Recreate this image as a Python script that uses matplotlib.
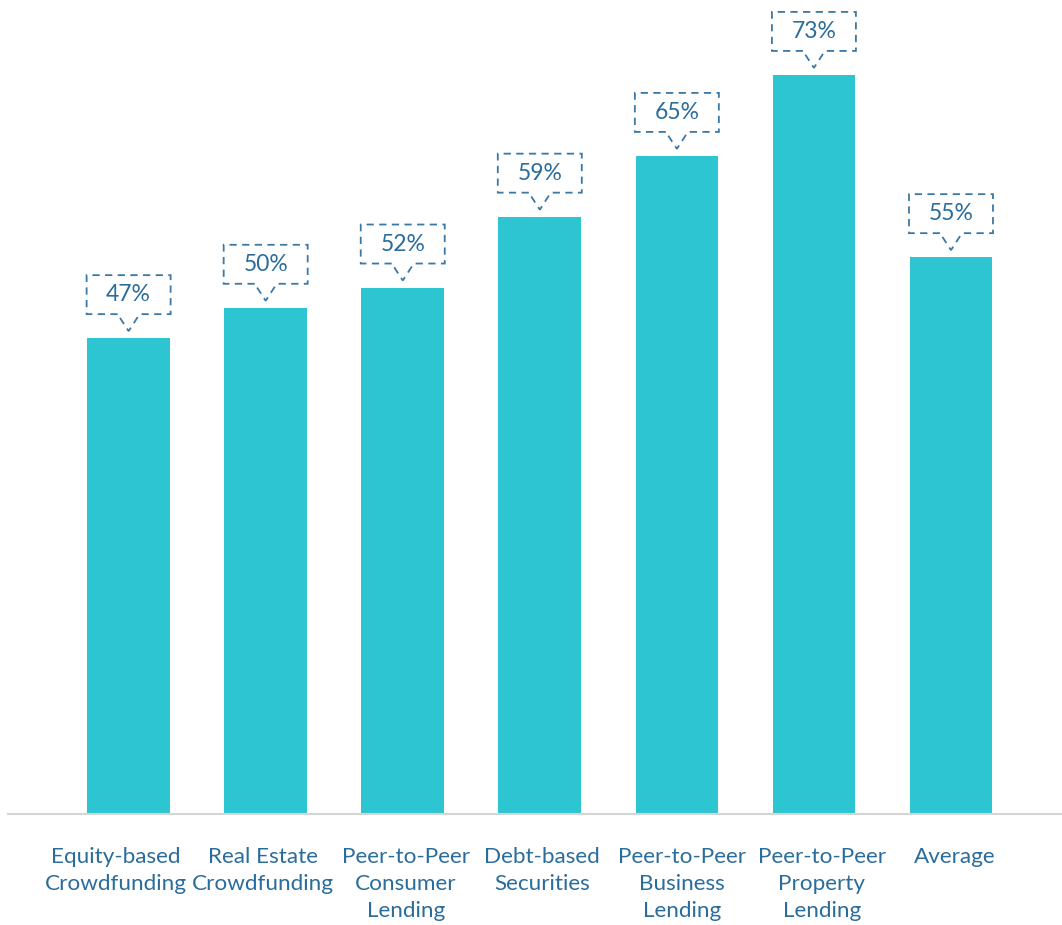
import matplotlib.pyplot as plt
from matplotlib.path import Path
from matplotlib.patches import PathPatch
from matplotlib.transforms import Affine2D, ScaledTranslation

# Data
categories = ['Equity-based\nCrowdfunding', 'Real Estate\nCrowdfunding',
              'Peer-to-Peer\nConsumer\nLending', 'Debt-based\nSecurities',
              'Peer-to-Peer\nBusiness\nLending', 'Peer-to-Peer\nProperty\nLending',
              'Average']
values = [47, 50, 52, 59, 65, 73, 55]

bar_color = '#2cc5d1'
text_color = '#2a6d9c'
line_color = '#3b78a6'
# small horizontal nudges of the tick labels (pixels), as in the original
label_shift = [-13, -3, 3, 2, 5, 8, 4]

plt.rcParams['font.family'] = ['Lato', 'DejaVu Sans']

fig = plt.figure(figsize=(10.62, 9.25), dpi=100)
ax = fig.add_axes([8 / 1062, 111 / 925, 1054 / 1062, 814 / 925])

x = list(range(len(categories)))
ax.bar(x, values, width=0.603, color=bar_color, zorder=2)

ax.set_xlim(-0.88, 6.81)
ax.set_ylim(0, 80.4)

for s in ['top', 'right', 'left']:
    ax.spines[s].set_visible(False)
ax.spines['bottom'].set_color('#d4d4d4')
ax.spines['bottom'].set_linewidth(1.5)
ax.set_yticks([])
ax.set_xticks(x)
ax.set_xticklabels(categories, fontsize=16.2, color=text_color, linespacing=1.46, va='top')
ax.tick_params(axis='x', length=0, pad=23.5)
for lab, dx in zip(ax.get_xticklabels(), label_shift):
    lab.set_transform(lab.get_transform() + ScaledTranslation(dx / fig.dpi, 0, fig.dpi_scale_trans))

# Callout boxes (offsets in pixels from the top of each bar)
verts = [(-11, 24), (-42, 24), (-42, 63), (42, 63), (42, 24), (11, 24), (0, 7), (-11, 24)]
callout = Path(verts)
for xi, v in zip(x, values):
    tr = Affine2D().scale(1 / fig.dpi) + fig.dpi_scale_trans + ScaledTranslation(xi, v, ax.transData)
    patch = PathPatch(callout, transform=tr, fill=False, edgecolor=line_color,
                      linewidth=1.3, linestyle=(0, (4, 3)), clip_on=False)
    ax.add_patch(patch)
    ax.text(0, 43.5, f'{v}%', transform=tr, ha='center', va='center',
            fontsize=16.5, color=text_color, clip_on=False)

fig.savefig('out.png', dpi=100)
